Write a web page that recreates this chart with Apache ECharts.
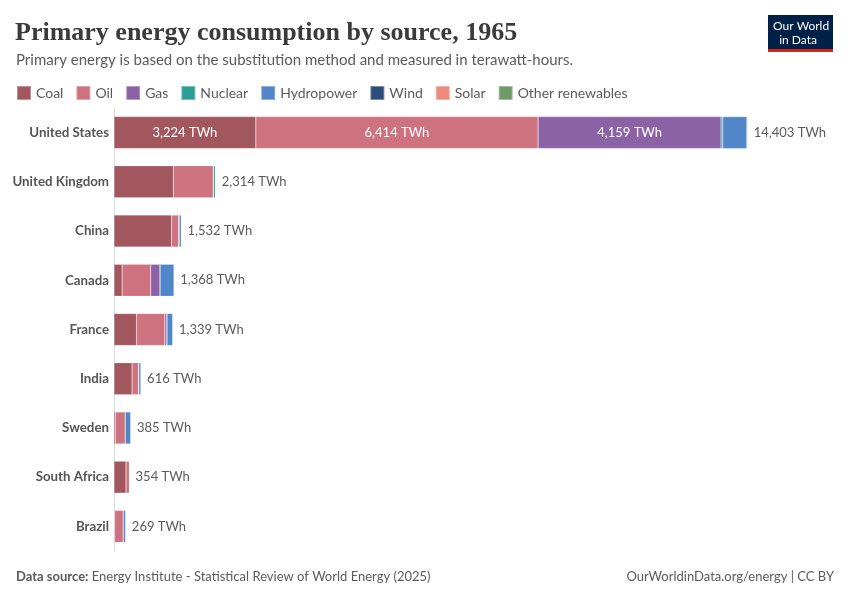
<!DOCTYPE html>
<html>
<head>
<meta charset="utf-8">
<script src="https://cdn.jsdelivr.net/npm/echarts@6/dist/echarts.min.js"></script>
<style>
  html, body { margin: 0; padding: 0; background: #fff; }
  #main { width: 850px; height: 600px; }
</style>
</head>
<body>
<div id="main"></div>
<script>
// data (TWh, 1965)
var countries = ['United States', 'United Kingdom', 'China', 'Canada', 'France', 'India', 'Sweden', 'South Africa', 'Brazil'];
var coal = [3224, 1350, 1310, 185, 515, 410, 28, 273, 15];
var oil = [6414, 905, 160, 650, 640, 150, 228, 79, 196];
var gas = [4159, 7, 12, 210, 45, 5, 0, 0, 2];
var nuclear = [40, 40, 0, 3, 5, 0, 0, 0, 0];
var hydro = [550, 12, 50, 320, 134, 51, 129, 2, 56];
var wind = [0, 0, 0, 0, 0, 0, 0, 0, 0];
var solar = [0, 0, 0, 0, 0, 0, 0, 0, 0];
var other = [16, 0, 0, 0, 0, 0, 0, 0, 0];
var totals = [14403, 2314, 1532, 1368, 1339, 616, 385, 354, 269];

var sources = ['Coal', 'Oil', 'Gas', 'Nuclear', 'Hydropower', 'Wind', 'Solar', 'Other renewables'];
var colors = ['#a2575f', '#cf7280', '#8c62a6', '#2d9c98', '#5186c8', '#2c4d78', '#ec8b7b', '#6e9b69'];
var values = [coal, oil, gas, nuclear, hydro, wind, solar, other];

var myChart = echarts.init(document.getElementById('main'));

function fmt(v) {
    return v.toLocaleString('en-US') + ' TWh';
}

var series = sources.map(function (name, i) {
    return {
        name: name,
        type: 'bar',
        stack: 'total',
        barWidth: 32,
        itemStyle: {color: colors[i], borderColor: 'rgba(255,255,255,0.35)', borderWidth: 0.5},
        label: {
            show: true,
            position: 'inside',
            color: '#fff',
            fontFamily: 'Lato',
            fontSize: 13,
            formatter: function (p) {
                return p.value > 2500 ? fmt(p.value) : '';
            }
        },
        emphasis: {disabled: true},
        data: values[i]
    };
});

// zero-width bar on top of each stack to carry the total label
series.push({
    name: 'total',
    type: 'bar',
    stack: 'total',
    barWidth: 32,
    itemStyle: {color: 'transparent'},
    label: {
        show: true,
        position: 'right',
        distance: 6,
        color: '#5b5b5b',
        fontFamily: 'Lato',
        fontSize: 13,
        formatter: function (p) {
            return fmt(totals[p.dataIndex]);
        }
    },
    data: totals.map(function () { return 0; })
});

var option = {
    animation: false,
    color: colors,
    title: [
        {
            text: 'Primary energy consumption by source, 1965',
            left: 15, top: 20, padding: 0,
            textStyle: {fontFamily: 'Liberation Serif', fontSize: 26, fontWeight: 'bold', color: '#3b3b3b'}
        },
        {
            text: 'Primary energy is based on the substitution method and measured in terawatt-hours.',
            left: 16, top: 53, padding: 0,
            textStyle: {fontFamily: 'Lato', fontSize: 15, fontWeight: 'normal', color: '#5b5b5b'}
        },
        {
            text: '{b|Data source:} Energy Institute - Statistical Review of World Energy (2025)',
            left: 16, top: 570, padding: 0,
            textStyle: {
                fontFamily: 'Lato', fontSize: 13, fontWeight: 'normal', color: '#5b5b5b',
                rich: {b: {fontFamily: 'Lato', fontSize: 13, fontWeight: 'bold', color: '#5b5b5b'}}
            }
        },
        {
            text: 'OurWorldinData.org/energy | CC BY',
            right: 16, top: 570, padding: 0,
            textStyle: {fontFamily: 'Lato', fontSize: 13, fontWeight: 'normal', color: '#5b5b5b'}
        }
    ],
    legend: {
        data: sources,
        left: 16, top: 85,
        padding: 0,
        icon: 'rect',
        itemWidth: 14, itemHeight: 14, itemGap: 12,
        selectedMode: false,
        textStyle: {fontFamily: 'Lato', fontSize: 14, color: '#5b5b5b'}
    },
    graphic: [
        {type: 'rect', left: 768, top: 15, shape: {width: 65, height: 37}, style: {fill: '#002147'}},
        {type: 'rect', left: 768, top: 49, shape: {width: 65, height: 3}, style: {fill: '#ce261e'}},
        {
            type: 'text', left: 773, top: 19,
            style: {text: 'Our World\n  in Data', fill: '#fff', font: '12px Lato', lineHeight: 14, align: 'center'}
        }
    ],
    grid: {left: 114, right: 32, top: 108, bottom: 49, containLabel: false},
    xAxis: {
        type: 'value',
        min: 0,
        max: 16000,
        show: false
    },
    yAxis: {
        type: 'category',
        data: countries,
        inverse: true,
        axisTick: {show: false},
        axisLine: {show: true, lineStyle: {color: '#dadada', width: 1}},
        axisLabel: {fontFamily: 'Lato', fontSize: 13.3, fontWeight: 'bold', color: '#555', margin: 5}
    },
    series: series
};

myChart.setOption(option);
</script>
</body>
</html>
